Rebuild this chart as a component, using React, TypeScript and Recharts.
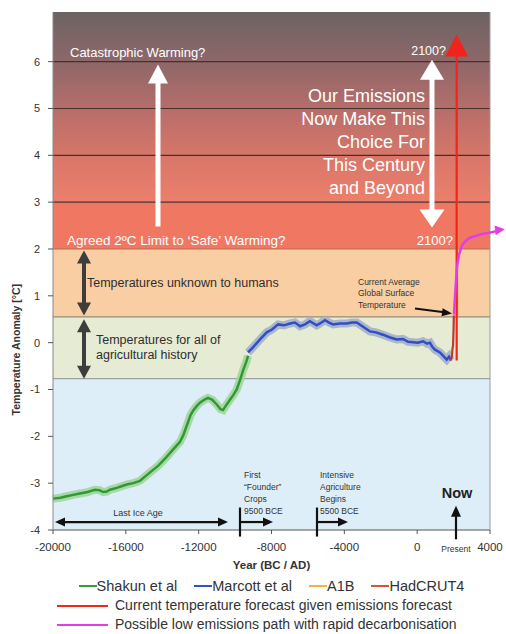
import React from "react";
import {
	ComposedChart,
	Line,
	XAxis,
	YAxis,
	ReferenceArea,
	ReferenceLine,
	ReferenceDot,
} from "recharts";

const FONT = '"Liberation Sans", Arial, sans-serif';

// Shakun et al (green)
const shakunYears = [
	-20000, -19600, -19250, -18900, -18520, -18100, -17700, -17450, -17250, -17050,
	-16870, -16500, -16200, -15950, -15600, -15220, -14950, -14670, -14200, -13760,
	-13400, -13030, -12850, -12660, -12450, -12300, -12100, -11930, -11700, -11490,
	-11250, -11010, -10800, -10660, -10480, -10280, -10100, -9910, -9730, -9550,
	-9360, -9290,
];
const shakunTemps = [
	-3.33, -3.31, -3.28, -3.25, -3.22, -3.19, -3.14, -3.15, -3.19, -3.18,
	-3.14, -3.1, -3.06, -3.03, -3.0, -2.95, -2.86, -2.77, -2.62, -2.44,
	-2.28, -2.12, -1.98, -1.78, -1.55, -1.45, -1.35, -1.28, -1.22, -1.18,
	-1.22, -1.32, -1.42, -1.44, -1.33, -1.22, -1.12, -1.0, -0.8, -0.58,
	-0.38, -0.28,
];

// Marcott et al (blue)
const marcottYears = [
	-9290, -9016, -8630, -8260, -7970, -7640, -7310, -6980, -6710, -6430,
	-6160, -5890, -5520, -5340, -5060, -4840, -4620, -4240, -3870, -3580,
	-3320, -2970, -2590, -2260, -1880, -1490, -1120, -780, -500, -230,
	45, 320, 540, 700, 850, 980, 1250, 1470, 1620, 1750, 1860,
];
const marcottTemps = [
	-0.21, -0.1, 0.07, 0.22, 0.28, 0.39, 0.37, 0.41, 0.43, 0.35,
	0.39, 0.46, 0.37, 0.41, 0.48, 0.43, 0.39, 0.41, 0.41, 0.43,
	0.43, 0.34, 0.24, 0.22, 0.17, 0.11, 0.07, 0.08, 0.02, 0.01,
	0.0, 0.03, -0.02, 0.0, -0.1, -0.15, -0.21, -0.3, -0.36, -0.3, -0.38,
];

// HadCRUT4 (instrumental)
const hadYears = [1850, 1880, 1910, 1940, 1970, 2000, 2015];
const hadTemps = [-0.38, -0.32, -0.3, -0.12, -0.08, 0.3, 0.58];

// A1B scenario
const a1bYears = [2200, 2200];
const a1bTemps = [0.58, 3.0];

// current forecast (red arrow shaft)
const forecastYears = [2170, 2170];
const forecastTemps = [-0.38, 6.2];

// low emissions path (magenta)
const lowYears = [2020, 2100, 2190, 2300, 2445, 2630, 2900, 3450, 4000, 4550];
const lowTemps = [0.6, 1.13, 1.63, 1.88, 2.06, 2.16, 2.24, 2.31, 2.35, 2.4];

const xTicks = [-20000, -16000, -12000, -8000, -4000, 0, 4000];
const yTicks = [-4, -3, -2, -1, 0, 1, 2, 3, 4, 5, 6];

const zip = (xs: number[], ys: number[]) => xs.map((x, i) => ({ x, y: ys[i] }));

const shakun = zip(shakunYears, shakunTemps);
const marcott = zip(marcottYears, marcottTemps);
const hadcrut = zip(hadYears, hadTemps);
const a1b = zip(a1bYears, a1bTemps);
const forecast = zip(forecastYears, forecastTemps);
const lowPath = zip(lowYears, lowTemps);

// background bands
const bands = [
	{ y1: -4, y2: -0.77, fill: "#ddeef8" },
	{ y1: -0.77, y2: 0.55, fill: "#e6ebd4" },
	{ y1: 0.55, y2: 2, fill: "#f9cea2" },
	{ y1: 2, y2: 3, fill: "#f07862" },
	{ y1: 3, y2: 7.06, fill: "url(#hotGrad)" },
];
const darkLines = [3, 4, 5, 6];
const softLines = [
	{ y: 2, c: "#b86a55" },
	{ y: 0.55, c: "#948c7c" },
	{ y: -0.77, c: "#9aa0a4" },
];

type Shaft = { x1: number; y1: number; x2: number; y2: number; c: string; w: number };
const shafts: Shaft[] = [
	{ x1: -14233, y1: 2.48, x2: -14233, y2: 5.6, c: "#ffffff", w: 5 },
	{ x1: 815, y1: 5.7, x2: 815, y2: 2.8, c: "#ffffff", w: 5 },
	{ x1: -18297, y1: 1.8, x2: -18297, y2: 0.75, c: "#3d3d3d", w: 4 },
	{ x1: -18297, y1: 0.35, x2: -18297, y2: -0.55, c: "#3d3d3d", w: 4 },
	{ x1: -120, y1: 0.73, x2: 1700, y2: 0.64, c: "#111111", w: 2 },
	{ x1: -19700, y1: -3.83, x2: -10600, y2: -3.83, c: "#111111", w: 2.2 },
	{ x1: -9730, y1: -3.52, x2: -9730, y2: -4.14, c: "#111111", w: 2.2 },
	{ x1: -9730, y1: -3.83, x2: -8200, y2: -3.83, c: "#111111", w: 2.2 },
	{ x1: -5501, y1: -3.52, x2: -5501, y2: -4.14, c: "#111111", w: 2.2 },
	{ x1: -5501, y1: -3.83, x2: -4080, y2: -3.83, c: "#111111", w: 2.2 },
	{ x1: 2133, y1: -4.2, x2: 2133, y2: -3.65, c: "#111111", w: 2.2 },
];

type Head = { x: number; y: number; a: number; len: number; half: number; c: string };
const heads: Head[] = [
	{ x: -14233, y: 5.94, a: -90, len: 19, half: 10, c: "#ffffff" },
	{ x: 815, y: 6.04, a: -90, len: 20, half: 12, c: "#ffffff" },
	{ x: 815, y: 2.46, a: 90, len: 18, half: 12.5, c: "#ffffff" },
	{ x: 2170, y: 6.58, a: -90, len: 22, half: 11.5, c: "#f2231a" },
	{ x: -18297, y: 1.97, a: -90, len: 13, half: 7, c: "#3d3d3d" },
	{ x: -18297, y: 0.58, a: 90, len: 13, half: 7, c: "#3d3d3d" },
	{ x: -18297, y: 0.5, a: -90, len: 13, half: 7, c: "#3d3d3d" },
	{ x: -18297, y: -0.77, a: 90, len: 13, half: 7, c: "#3d3d3d" },
	{ x: 1913, y: 0.62, a: 8, len: 10, half: 4, c: "#111111" },
	{ x: -19890, y: -3.83, a: 180, len: 10, half: 4.5, c: "#111111" },
	{ x: -10389, y: -3.83, a: 0, len: 10, half: 4.5, c: "#111111" },
	{ x: -7918, y: -3.83, a: 0, len: 10, half: 4.5, c: "#111111" },
	{ x: -3799, y: -3.83, a: 0, len: 10, half: 4.5, c: "#111111" },
	{ x: 2133, y: -3.48, a: -90, len: 11, half: 5, c: "#111111" },
	{ x: 4825, y: 2.42, a: -6, len: 10, half: 5, c: "#e23ee8" },
];

type Note = {
	x: number;
	y: number;
	lines: string[];
	size: number;
	c: string;
	bold?: boolean;
	anchor?: "start" | "middle" | "end";
	lh?: number;
	rot?: number;
};
const notes: Note[] = [
	{ x: -19066, y: 6.09, lines: ["Catastrophic Warming?"], size: 13, c: "#ffffff" },
	{ x: -19231, y: 2.09, lines: ["Agreed 2ºC Limit to ‘Safe’ Warming?"], size: 13.5, c: "#ffffff" },
	{ x: 1583, y: 6.15, lines: ["2100?"], size: 12.5, c: "#ffffff", anchor: "end" },
	{ x: 1968, y: 2.09, lines: ["2100?"], size: 13, c: "#ffffff", anchor: "end" },
	{
		x: 430,
		y: 5.13,
		lines: ["Our Emissions", "Now Make This", "Choice For", "This Century", "and Beyond"],
		size: 18,
		c: "#ffffff",
		anchor: "end",
		lh: 22.8,
	},
	{ x: -18133, y: 1.18, lines: ["Temperatures unknown to humans"], size: 12.5, c: "#2e2e2e" },
	{
		x: -17638,
		y: -0.02,
		lines: ["Temperatures for all of", "agricultural history"],
		size: 12.5,
		c: "#2e2e2e",
		lh: 15.5,
	},
	{
		x: -3249,
		y: 1.24,
		lines: ["Current Average", "Global Surface", "Temperature"],
		size: 8.5,
		c: "#333333",
		lh: 11.8,
	},
	{ x: -15332, y: -3.71, lines: ["Last Ice Age"], size: 9, c: "#333333", anchor: "middle" },
	{
		x: -9510,
		y: -2.9,
		lines: ["First", "“Founder”", "Crops", "9500 BCE"],
		size: 8.5,
		c: "#333333",
		lh: 12,
	},
	{
		x: -5336,
		y: -2.9,
		lines: ["Intensive", "Agriculture", "Begins", "5500 BCE"],
		size: 8.5,
		c: "#333333",
		lh: 12,
	},
	{ x: 2188, y: -3.31, lines: ["Now"], size: 14.5, c: "#222222", bold: true, anchor: "middle" },
	{ x: 2133, y: -4.46, lines: ["Present"], size: 8.5, c: "#333333", anchor: "middle" },
	{ x: -8000, y: -4.84, lines: ["Year (BC / AD)"], size: 11.5, c: "#333333", bold: true, anchor: "middle" },
	{
		x: -21812,
		y: -0.15,
		lines: ["Temperature Anomaly [°C]"],
		size: 10.5,
		c: "#333333",
		bold: true,
		anchor: "middle",
		rot: -90,
	},
];

const headShape = (h: Head) => (p: any) => (
	<polygon
		points={`0,0 ${-h.len},${-h.half} ${-h.len},${h.half}`}
		transform={`translate(${p.cx},${p.cy}) rotate(${h.a})`}
		fill={h.c}
	/>
);

const noteShape = (n: Note) => (p: any) => (
	<text
		x={p.cx}
		y={p.cy}
		fill={n.c}
		fontSize={n.size}
		fontWeight={n.bold ? "bold" : "normal"}
		fontFamily={FONT}
		textAnchor={n.anchor || "start"}
		transform={n.rot ? `rotate(${n.rot},${p.cx},${p.cy})` : undefined}>
		{n.lines.map((l, i) => (
			<tspan key={i} x={p.cx} dy={i === 0 ? 0 : n.lh}>
				{l}
			</tspan>
		))}
	</text>
);

const legendRow1 = [
	{ name: "Shakun et al", color: "#3c9a3c" },
	{ name: "Marcott et al", color: "#3152c6" },
	{ name: "A1B", color: "#f0b444" },
	{ name: "HadCRUT4", color: "#d4553a" },
];
const legendRow2 = [
	{ name: "Current temperature forecast given emissions forecast", color: "#f2281c" },
	{ name: "Possible low emissions path with rapid decarbonisation", color: "#e23ee8" },
];

export default function App() {
	return (
		<div style={{ position: "relative", width: 506, height: 634, fontFamily: FONT }}>
			<style>{"body{margin:0}"}</style>
			<ComposedChart
				width={506}
				height={634}
				margin={{ top: 12, right: 1, bottom: 74, left: 0 }}>
				<defs>
					<linearGradient id="hotGrad" x1="0" y1="0" x2="0" y2="1">
						<stop offset="0" stopColor="#6c6363" />
						<stop offset="0.3" stopColor="#946869" />
						<stop offset="0.55" stopColor="#bc6f69" />
						<stop offset="0.8" stopColor="#dc786a" />
						<stop offset="1" stopColor="#ec7f6b" />
					</linearGradient>
				</defs>
				<XAxis
					type="number"
					dataKey="x"
					domain={[-20000, 4824]}
					ticks={xTicks}
					height={30}
					axisLine={false}
					tickSize={4}
					tickMargin={9}
					tickLine={{ stroke: "#555" }}
					tick={{ fontSize: 11.5, fill: "#333", fontFamily: FONT }}
				/>
				<YAxis
					type="number"
					dataKey="y"
					domain={[-4, 7.06]}
					ticks={yTicks}
					width={53}
					tickSize={5}
					tickMargin={8}
					axisLine={{ stroke: "#888" }}
					tickLine={{ stroke: "#555" }}
					tick={{ fontSize: 11, fill: "#333", fontFamily: FONT }}
				/>
				{bands.map((b, i) => (
					<ReferenceArea
						key={"b" + i}
						x1={-20000}
						x2={4000}
						y1={b.y1}
						y2={b.y2}
						fill={b.fill}
						fillOpacity={1}
						stroke="none"
					/>
				))}
				{darkLines.map((v) => (
					<ReferenceLine
						key={"d" + v}
						segment={[
							{ x: -20000, y: v },
							{ x: 4000, y: v },
						]}
						stroke="#4a2d2d"
						strokeWidth={1.2}
					/>
				))}
				{softLines.map((s) => (
					<ReferenceLine
						key={"s" + s.y}
						segment={[
							{ x: -20000, y: s.y },
							{ x: 4000, y: s.y },
						]}
						stroke={s.c}
						strokeWidth={1.2}
					/>
				))}
				<ReferenceLine
					segment={[
						{ x: -20000, y: -4 },
						{ x: 4000, y: -4 },
					]}
					stroke="#555"
					strokeWidth={1.2}
				/>
				<ReferenceLine
					segment={[
						{ x: 4000, y: -4 },
						{ x: 4000, y: 7.06 },
					]}
					stroke="#9a9a9a"
					strokeWidth={1}
				/>
				<Line data={shakun} dataKey="y" stroke="#9fd49a" strokeOpacity={0.85} strokeWidth={8} dot={false} isAnimationActive={false} />
				<Line data={marcott} dataKey="y" stroke="#a4b0c6" strokeOpacity={0.9} strokeWidth={8} dot={false} isAnimationActive={false} />
				<Line data={shakun} dataKey="y" stroke="#2f9a34" strokeWidth={2.5} dot={false} isAnimationActive={false} />
				<Line data={marcott} dataKey="y" stroke="#2f4fc8" strokeWidth={2.5} dot={false} isAnimationActive={false} />
				<Line data={a1b} dataKey="y" stroke="#e8a23c" strokeWidth={2} dot={false} isAnimationActive={false} />
				<Line data={forecast} dataKey="y" stroke="#f2231a" strokeWidth={2.2} dot={false} isAnimationActive={false} />
				<Line data={hadcrut} dataKey="y" stroke="#c0392b" strokeWidth={2.2} dot={false} isAnimationActive={false} />
				<Line data={lowPath} dataKey="y" stroke="#e23ee8" strokeWidth={2.5} dot={false} isAnimationActive={false} />
				{shafts.map((s, i) => (
					<ReferenceLine
						key={"sh" + i}
						segment={[
							{ x: s.x1, y: s.y1 },
							{ x: s.x2, y: s.y2 },
						]}
						stroke={s.c}
						strokeWidth={s.w}
						ifOverflow="visible"
					/>
				))}
				{heads.map((h, i) => (
					<ReferenceDot key={"h" + i} x={h.x} y={h.y} ifOverflow="visible" shape={headShape(h)} />
				))}
				{notes.map((n, i) => (
					<ReferenceDot key={"n" + i} x={n.x} y={n.y} ifOverflow="visible" shape={noteShape(n)} />
				))}
			</ComposedChart>
			<div
				style={{
					position: "absolute",
					left: 53,
					width: 437,
					top: 576,
					display: "flex",
					justifyContent: "center",
					gap: 17,
					fontSize: 14.5,
					color: "#333",
					lineHeight: "20px",
				}}>
				{legendRow1.map((l) => (
					<div key={l.name} style={{ display: "flex", alignItems: "center" }}>
						<span style={{ display: "inline-block", width: 18, height: 2, background: l.color }} />
						<span>{l.name}</span>
					</div>
				))}
			</div>
			{legendRow2.map((l, i) => (
				<div
					key={l.name}
					style={{
						position: "absolute",
						left: 57,
						top: 597 + i * 19,
						display: "flex",
						alignItems: "center",
						fontSize: 14,
						color: "#333",
						lineHeight: "17px",
						whiteSpace: "nowrap",
					}}>
					<span style={{ display: "inline-block", width: 51, height: 2, background: l.color, marginRight: 7 }} />
					<span>{l.name}</span>
				</div>
			))}
		</div>
	);
}
